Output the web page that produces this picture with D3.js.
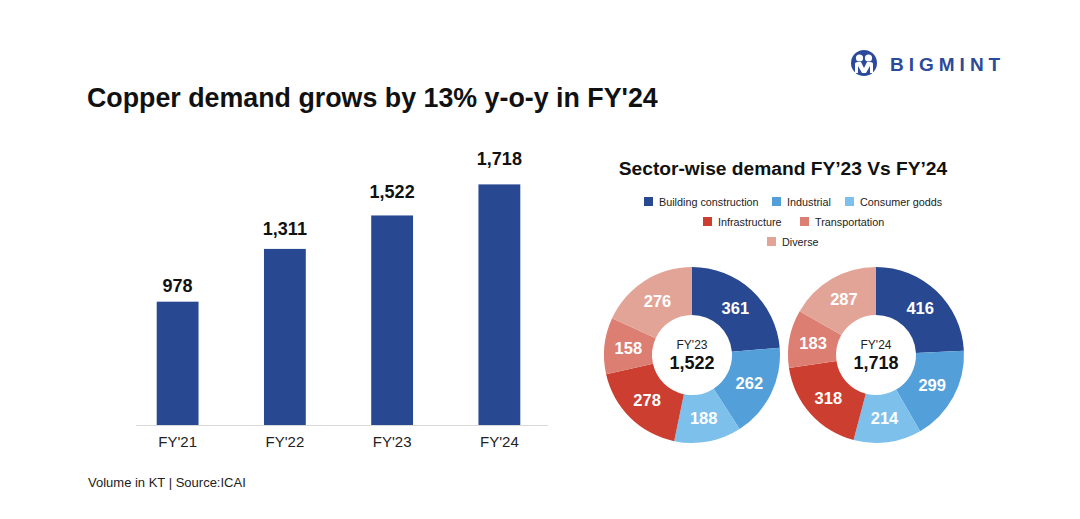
<!DOCTYPE html>
<html><head><meta charset="utf-8">
<script src="https://cdn.jsdelivr.net/npm/d3@7"></script>
<style>
body{margin:0;background:#fff;}
svg{display:block;font-family:"Liberation Sans",Arial,sans-serif;}
</style></head>
<body><svg id="c" width="1080" height="519"></svg>
<script>
// ---- data ----
const years = ["FY'21","FY'22","FY'23","FY'24"];
const demand = [978, 1311, 1522, 1718];
const sectors = ["Building construction","Industrial","Consumer godds","Infrastructure","Transportation","Diverse"];
const sectorColors = ["#284892","#539fd9","#7dc0ec","#cc3f30","#dc7e72","#e3a498"];
const fy23 = [361, 262, 188, 278, 158, 276];
const fy24 = [416, 299, 214, 318, 183, 287];
const donutLabels = ["FY'23","FY'24"];
const donutTotals = ["1,522","1,718"];
const yDomain = [200, 1800];

const svg = d3.select("#c");
const fmt = d3.format(",");

// title
svg.append("text").attr("x",87).attr("y",107).attr("font-size",26.8).attr("font-weight","bold")
  .attr("fill","#111").text("Copper demand grows by 13% y-o-y in FY'24");

// logo
const logo = svg.append("g").attr("transform","translate(864,63)");
logo.append("circle").attr("r",13).attr("fill","#2b4a9b");
logo.append("circle").attr("cx",-4.5).attr("cy",-5).attr("r",3.6).attr("fill","#fff");
logo.append("circle").attr("cx",4.5).attr("cy",-5).attr("r",3.6).attr("fill","#fff");
logo.append("path").attr("d","M-9,10 L-9,1 Q-9,-1 -6,-1 L-3,-1 L0,5 L3,-1 L6,-1 Q9,-1 9,1 L9,10 L6,10 L6,3 L2,10 L-2,10 L-6,3 L-6,10 Z").attr("fill","#fff");
svg.append("text").attr("x",890).attr("y",71).attr("font-size",19).attr("font-weight","bold")
  .attr("letter-spacing",5).attr("fill","#2b4a9b").text("BIGMINT");

// bar chart
const x = d3.scaleBand().domain(years).range([124,553]).paddingInner(0.61).paddingOuter(0.305);
const y = d3.scaleLinear().domain(yDomain).range([425,171.4]);
const yLabel = d3.scaleLinear().domain([0,1800]).range([454.1,144.1]);
svg.append("g").selectAll("rect").data(demand).join("rect")
  .attr("x",(d,i)=>x(years[i])).attr("width",x.bandwidth())
  .attr("y",d=>y(d)).attr("height",d=>425-y(d)).attr("fill","#284892");
svg.append("g").selectAll("text").data(demand).join("text")
  .attr("x",(d,i)=>x(years[i])+x.bandwidth()/2).attr("y",d=>yLabel(d)).attr("dy","0.35em")
  .attr("text-anchor","middle").attr("font-size",18).attr("font-weight","bold").attr("fill","#111")
  .text(d=>fmt(d));
const xAxis = svg.append("g").attr("transform","translate(0,425)")
  .call(d3.axisBottom(x).tickSize(0).tickPadding(11));
xAxis.select(".domain").attr("d","M136,0.5H548").attr("stroke","#d9d9d9");
xAxis.selectAll("text").attr("font-size",15).attr("fill","#222").attr("font-family","Liberation Sans, Arial, sans-serif");

// footer
svg.append("text").attr("x",88).attr("y",487).attr("font-size",13).attr("fill","#222")
  .text("Volume in KT | Source:ICAI");

// right title
svg.append("text").attr("x",783).attr("y",175).attr("text-anchor","middle").attr("font-size",19.2)
  .attr("font-weight","bold").attr("fill","#111").text("Sector-wise demand FY’23 Vs FY’24");

// legend
const legendPos = [[644,202],[772,202],[845,202],[703,222],[800,222],[767,242]];
const lg = svg.append("g").selectAll("g").data(sectors).join("g")
  .attr("transform",(d,i)=>`translate(${legendPos[i][0]},${legendPos[i][1]})`);
lg.append("rect").attr("x",0).attr("y",-5).attr("width",9).attr("height",9).attr("fill",(d,i)=>sectorColors[i]);
lg.append("text").attr("x",15).attr("y",4).attr("font-size",10.8).attr("fill","#222").text(d=>d);

// donuts
const pie = d3.pie().sort(null).value(d=>d);
const arc = d3.arc().innerRadius(40).outerRadius(88);
const labelArc = d3.arc().innerRadius(64).outerRadius(64);
[[fy23,692],[fy24,876]].forEach(([vals,cx],k)=>{
  const g = svg.append("g").attr("transform",`translate(${cx},355)`);
  const arcs = pie(vals);
  g.selectAll("path").data(arcs).join("path").attr("d",arc).attr("fill",(d,i)=>sectorColors[i]);
  g.selectAll("text.v").data(arcs).join("text").attr("class","v")
    .attr("transform",d=>`translate(${labelArc.centroid(d)})`).attr("dy","0.35em")
    .attr("text-anchor","middle").attr("font-size",16.5).attr("font-weight","bold").attr("fill","#fff")
    .text(d=>d.data);
  g.append("text").attr("y",-6).attr("text-anchor","middle").attr("font-size",12).attr("fill","#222").text(donutLabels[k]);
  g.append("text").attr("y",14).attr("text-anchor","middle").attr("font-size",18).attr("font-weight","bold").attr("fill","#111").text(donutTotals[k]);
});
</script></body></html>
